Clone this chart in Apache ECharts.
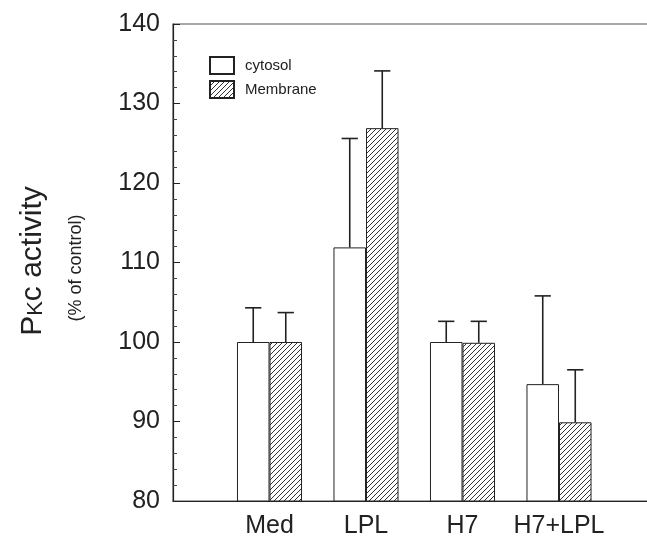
<!DOCTYPE html>
<html>
<head>
<meta charset="utf-8">
<script src="https://cdn.jsdelivr.net/npm/echarts@6/dist/echarts.min.js"></script>
<style>
html,body{margin:0;padding:0;background:#fff;}
#chart{width:647px;height:539px;}
</style>
</head>
<body>
<div id="chart"></div>
<script>
// ---- data ----
const categories = ['Med', 'LPL', 'H7', 'H7+LPL'];
const cytosol = [100, 111.9, 100, 94.7];
const membrane = [100, 126.9, 99.9, 89.9];
const cytosolErrTop = [104.3, 125.6, 102.6, 105.8];
const membraneErrTop = [103.7, 134.1, 102.6, 96.5];
const yMin = 80, yMax = 140, yStep = 10;

// ---- styling helpers ----
const INK = '#222';
const BAR_FRAC = 0.337; // bar width as fraction of category spacing

function hatchPattern() {
  const s = 5;
  const c = document.createElement('canvas');
  c.width = s; c.height = s;
  const g = c.getContext('2d');
  g.fillStyle = '#fff';
  g.fillRect(0, 0, s, s);
  g.strokeStyle = '#333';
  g.lineWidth = 1;
  g.beginPath();
  g.moveTo(-1, s + 1); g.lineTo(s + 1, -1);
  g.moveTo(-1, 1); g.lineTo(1, -1);
  g.moveTo(s - 1, s + 1); g.lineTo(s + 1, s - 1);
  g.stroke();
  return c;
}

const axisData = [''].concat(categories, ['']);
const pad = arr => [null].concat(arr, [null]);

function errSeries(name, tops, vals, side) {
  return {
    name: name,
    type: 'custom',
    z: 5,
    clip: false,
    silent: true,
    encode: { x: 0, y: [1, 2] },
    data: categories.map((c, i) => [i + 1, tops[i], vals[i]]),
    renderItem: function (params, api) {
      const idx = api.value(0);
      const top = api.coord([idx, api.value(1)]);
      const base = api.coord([idx, api.value(2)]);
      const band = api.size([1, 0])[0];
      const bw = band * BAR_FRAC;
      const x = top[0] + side * bw / 2;
      const cap = bw / 4;
      const st = { stroke: INK, lineWidth: 1.6 };
      return {
        type: 'group',
        children: [
          { type: 'line', shape: { x1: x, y1: base[1], x2: x, y2: top[1] }, style: st },
          { type: 'line', shape: { x1: x - cap, y1: top[1], x2: x + cap, y2: top[1] }, style: st }
        ]
      };
    }
  };
}

const chart = echarts.init(document.getElementById('chart'), null, { renderer: 'canvas' });
const FONT = '"Liberation Sans", Arial, Helvetica, sans-serif';

chart.setOption({
  animation: false,
  backgroundColor: '#fff',
  textStyle: { fontFamily: FONT },
  grid: {
    left: 173, top: 24, width: 482.5, height: 477,
    outerBoundsMode: 'none',
    containLabel: false,
    show: true, borderColor: '#555', borderWidth: 1.2, backgroundColor: 'transparent'
  },
  legend: {
    data: [{ name: 'cytosol', icon: 'rect' }, { name: 'Membrane', icon: 'rect' }],
    orient: 'vertical',
    left: 209, top: 56,
    itemWidth: 24, itemHeight: 17, itemGap: 5,
    padding: 0,
    textStyle: { fontSize: 15, color: INK, fontFamily: FONT, padding: [2, 0, 0, 6] },
    selectedMode: false
  },
  xAxis: {
    type: 'category',
    data: axisData,
    boundaryGap: false,
    axisLine: { lineStyle: { color: INK, width: 1.2 } },
    axisTick: { show: false },
    axisLabel: { interval: 0, fontSize: 25, color: INK, margin: 13, fontFamily: FONT },
    splitLine: { show: false }
  },
  yAxis: {
    type: 'value',
    min: yMin, max: yMax, interval: yStep,
    axisLine: { show: true, lineStyle: { color: INK, width: 1.2 } },
    axisTick: { show: true, inside: true, length: 7, lineStyle: { color: INK } },
    minorTick: { show: true, splitNumber: 5, length: 4, lineStyle: { color: '#444' } },
    axisLabel: { fontSize: 25, color: INK, margin: 13, fontFamily: FONT },
    splitLine: { show: false }
  },
  graphic: [
    {
      type: 'text',
      x: 33, y: 261,
      rotation: Math.PI / 2,
      style: {
        text: 'P{k|K}c activity',
        font: '30px ' + FONT,
        fill: INK,
        align: 'center',
        verticalAlign: 'middle',
        rich: {
          k: { fontSize: 22, fontFamily: FONT, fill: INK, verticalAlign: 'bottom', padding: [0, 0, 1, 0] }
        }
      }
    },
    {
      type: 'text',
      x: 76, y: 268,
      rotation: Math.PI / 2,
      style: {
        text: '(% of control)',
        font: '18px ' + FONT,
        fill: INK,
        align: 'center',
        verticalAlign: 'middle'
      }
    }
  ],
  series: [
    {
      name: 'cytosol',
      type: 'bar',
      data: pad(cytosol),
      barWidth: (BAR_FRAC * 100) + '%',
      barGap: '0%',
      itemStyle: { color: '#fff', borderColor: INK, borderWidth: 1 },
      z: 2
    },
    {
      name: 'Membrane',
      type: 'bar',
      data: pad(membrane),
      barWidth: (BAR_FRAC * 100) + '%',
      barGap: '0%',
      itemStyle: { color: { image: hatchPattern(), repeat: 'repeat' }, borderColor: INK, borderWidth: 1 },
      z: 2
    },
    errSeries('cytosolErr', cytosolErrTop, cytosol, -1),
    errSeries('membraneErr', membraneErrTop, membrane, 1)
  ]
});
</script>
</body>
</html>
